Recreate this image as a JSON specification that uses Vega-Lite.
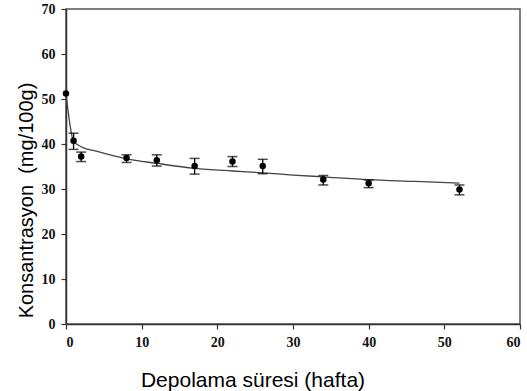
{
  "$schema": "https://vega.github.io/schema/vega-lite/v6.json",
  "autosize": "none",
  "padding": {"left": 66, "top": 9, "right": 7, "bottom": 67},
  "width": 454,
  "height": 315,
  "background": "white",
  "config": {
    "view": {"stroke": "#555555", "strokeWidth": 1.5},
    "axis": {
      "grid": false,
      "domainColor": "#333333",
      "domainWidth": 1.5,
      "tickColor": "#333333",
      "tickWidth": 1.2,
      "tickSize": 5,
      "labelFont": "Liberation Serif",
      "labelFontWeight": "bold",
      "labelFontSize": 14,
      "labelColor": "#111111",
      "titleFont": "Liberation Sans",
      "titleFontWeight": "normal",
      "titleColor": "#000000"
    }
  },
  "datasets": {
    "obs": [
      {"t": 0, "c": 51.2, "lo": 51.2, "hi": 51.2},
      {"t": 1, "c": 40.7, "lo": 38.8, "hi": 42.4},
      {"t": 2, "c": 37.2, "lo": 36.1, "hi": 38.2},
      {"t": 8, "c": 36.9, "lo": 35.9, "hi": 37.6},
      {"t": 12, "c": 36.4, "lo": 35.1, "hi": 37.6},
      {"t": 17, "c": 35.1, "lo": 33.3, "hi": 36.8},
      {"t": 22, "c": 36.1, "lo": 35.0, "hi": 37.2},
      {"t": 26, "c": 35.1, "lo": 33.4, "hi": 36.6},
      {"t": 34, "c": 32.1, "lo": 30.9, "hi": 33.0},
      {"t": 40, "c": 31.3, "lo": 30.3, "hi": 32.0},
      {"t": 52, "c": 29.9, "lo": 28.7, "hi": 30.9}
    ],
    "fit": [
      {"t": 0, "c": 51.2},
      {"t": 1, "c": 40.6},
      {"t": 2, "c": 39.4},
      {"t": 4, "c": 38.4},
      {"t": 8, "c": 36.7},
      {"t": 12, "c": 35.7},
      {"t": 17, "c": 34.6},
      {"t": 22, "c": 34.0},
      {"t": 26, "c": 33.6},
      {"t": 30, "c": 33.1},
      {"t": 34, "c": 32.7},
      {"t": 40, "c": 32.1},
      {"t": 46, "c": 31.7},
      {"t": 52, "c": 31.3}
    ]
  },
  "encoding": {
    "x": {
      "field": "t", "type": "quantitative",
      "scale": {"domain": [0, 60], "nice": false},
      "axis": {
        "values": [0, 10, 20, 30, 40, 50, 60],
        "labelPadding": 6,
        "labelFont": "Liberation Serif",
        "labelFontWeight": "bold",
        "title": "Depolama süresi (hafta)",
        "titleFontSize": 21,
        "titleX": 186.5,
        "titleY": 62.5,
        "titleAlign": "center",
        "titleBaseline": "alphabetic"
      }
    },
    "y": {
      "field": "c", "type": "quantitative",
      "scale": {"domain": [0, 70], "nice": false},
      "axis": {
        "values": [0, 10, 20, 30, 40, 50, 60, 70],
        "labelPadding": 6,
        "labelFont": "Liberation Serif",
        "labelFontWeight": "bold",
        "title": "Konsantrasyon\u00a0\u00a0(mg/100g)",
        "titleFontSize": 20,
        "titleAngle": -90,
        "titleX": -34,
        "titleY": 191,
        "titleAlign": "center",
        "titleBaseline": "alphabetic"
      }
    }
  },
  "layer": [
    {
      "data": {"name": "fit"},
      "mark": {"type": "line", "color": "#444444", "strokeWidth": 1.3, "interpolate": "monotone"},
      "encoding": {}
    },
    {
      "data": {"name": "obs"},
      "mark": {"type": "rule", "color": "#000000", "strokeWidth": 1.3},
      "encoding": {"y": {"field": "lo", "type": "quantitative"}, "y2": {"field": "hi"}}
    },
    {
      "data": {"name": "obs"},
      "transform": [{"filter": "datum.t > 0"}],
      "mark": {"type": "tick", "orient": "horizontal", "color": "#000000", "size": 10, "thickness": 1.5},
      "encoding": {"y": {"field": "lo", "type": "quantitative"}}
    },
    {
      "data": {"name": "obs"},
      "transform": [{"filter": "datum.t > 0"}],
      "mark": {"type": "tick", "orient": "horizontal", "color": "#000000", "size": 10, "thickness": 1.5},
      "encoding": {"y": {"field": "hi", "type": "quantitative"}}
    },
    {
      "data": {"name": "obs"},
      "mark": {"type": "point", "shape": "circle", "filled": true, "color": "#000000", "size": 42, "opacity": 1},
      "encoding": {}
    }
  ]
}
